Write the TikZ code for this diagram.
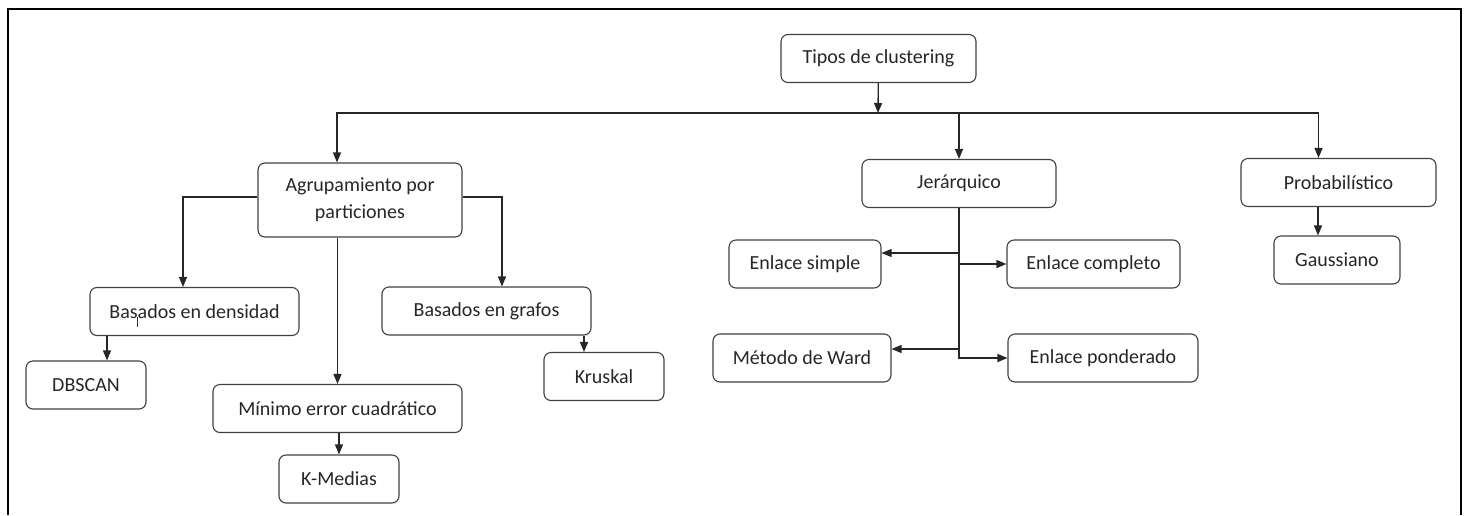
\documentclass[tikz,border=0pt]{standalone}
\usepackage{fontspec}
\setmainfont{Carlito}
\usetikzlibrary{arrows.meta}

\begin{document}
\begin{tikzpicture}[x=1pt, y=-1pt, >={Triangle[length=10pt,width=8pt]},
   box/.style={draw=black!75, line width=1.1pt, rounded corners=7pt, minimum height=48pt,
     align=center, inner sep=2pt, text=black!85, font=\fontsize{20}{27}\selectfont},
   line/.style={black!85, line width=1.3pt}
   ]
   \useasboundingbox (0,0) rectangle (1470,515);
   \draw[line width=2pt] (8,515) -- (8,9) -- (1461,9) -- (1461,515);

   \path (878.5,58.5) node[box, minimum width=195pt] (T) {Tipos de clustering}
   (878,113) coordinate (H);
   \path (360,200) node[box, minimum width=204pt, minimum height=74pt] (AP) {Agrupamiento por\\particiones}
   (959,183.5) node[box, minimum width=194pt] (J) {Jerárquico}
   (1338.5,182.5) node[box, minimum width=195pt] (P) {Probabilístico};

   \path (194.5,311.5) node[box, minimum width=209pt] (BD) {Basados en densidad}
   (486.5,311) node[box, minimum width=209pt] (BG) {Basados en grafos}
   (86,385) node[box, minimum width=120pt] (DB) {DBSCAN}
   (337.5,408.5) node[box, minimum width=249pt] (ME) {Mínimo error cuadrático}
   (339,479) node[box, minimum width=120pt] (KM) {K-Medias}
   (604,376.5) node[box, minimum width=120pt] (KR) {Kruskal};

   \path (805,264) node[box, minimum width=152pt] (ES) {Enlace simple}
   (1093.5,264) node[box, minimum width=173pt] (EC) {Enlace completo}
   (802,358) node[box, minimum width=178pt] (MW) {Método de Ward}
   (1103,358) node[box, minimum width=190pt] (EP) {Enlace ponderado}
   (1337,260) node[box, minimum width=126pt] (G) {Gaussiano};

   \draw[line, ->] (T) -- (H);
   \draw[line, ->] (H) -| ([xshift=-23pt]AP.north);
   \draw[line, ->] (H) -| (J);
   \draw[line, ->] (H) -| ([xshift=-20pt]P.north);

   \draw[line, ->] ([yshift=3pt]AP.west) -| ([xshift=-11.5pt]BD.north);
   \draw[line, ->] ([yshift=3pt]AP.east) -| ([xshift=15.5pt]BG.north);
   \draw[line, ->] (ME.north |- AP.south) -- (ME.north);
   \draw[line, ->] (KM.north |- ME.south) -- (KM.north);
   \draw[line, ->] ([xshift=21pt]DB.north |- BD.south) -- ([xshift=21pt]DB.north);
   \draw[line, ->] ([xshift=-20pt]KR.north |- BG.south) -- ([xshift=-20pt]KR.north);

   \draw[line, ->] (J.south) |- ([yshift=11pt]ES.east);
   \draw[line, ->] (J.south) |- (EC.west);
   \draw[line, ->] (J.south) |- ([yshift=9pt]MW.east);
   \draw[line, ->] (J.south) |- (EP.west);

   \draw[line, ->] ([xshift=-19pt]G.north |- P.south) -- ([xshift=-19pt]G.north);

   % text cursor
   \draw[black!80, line width=0.8pt] (137,317) -- (137,327);
\end{tikzpicture}
\end{document}
